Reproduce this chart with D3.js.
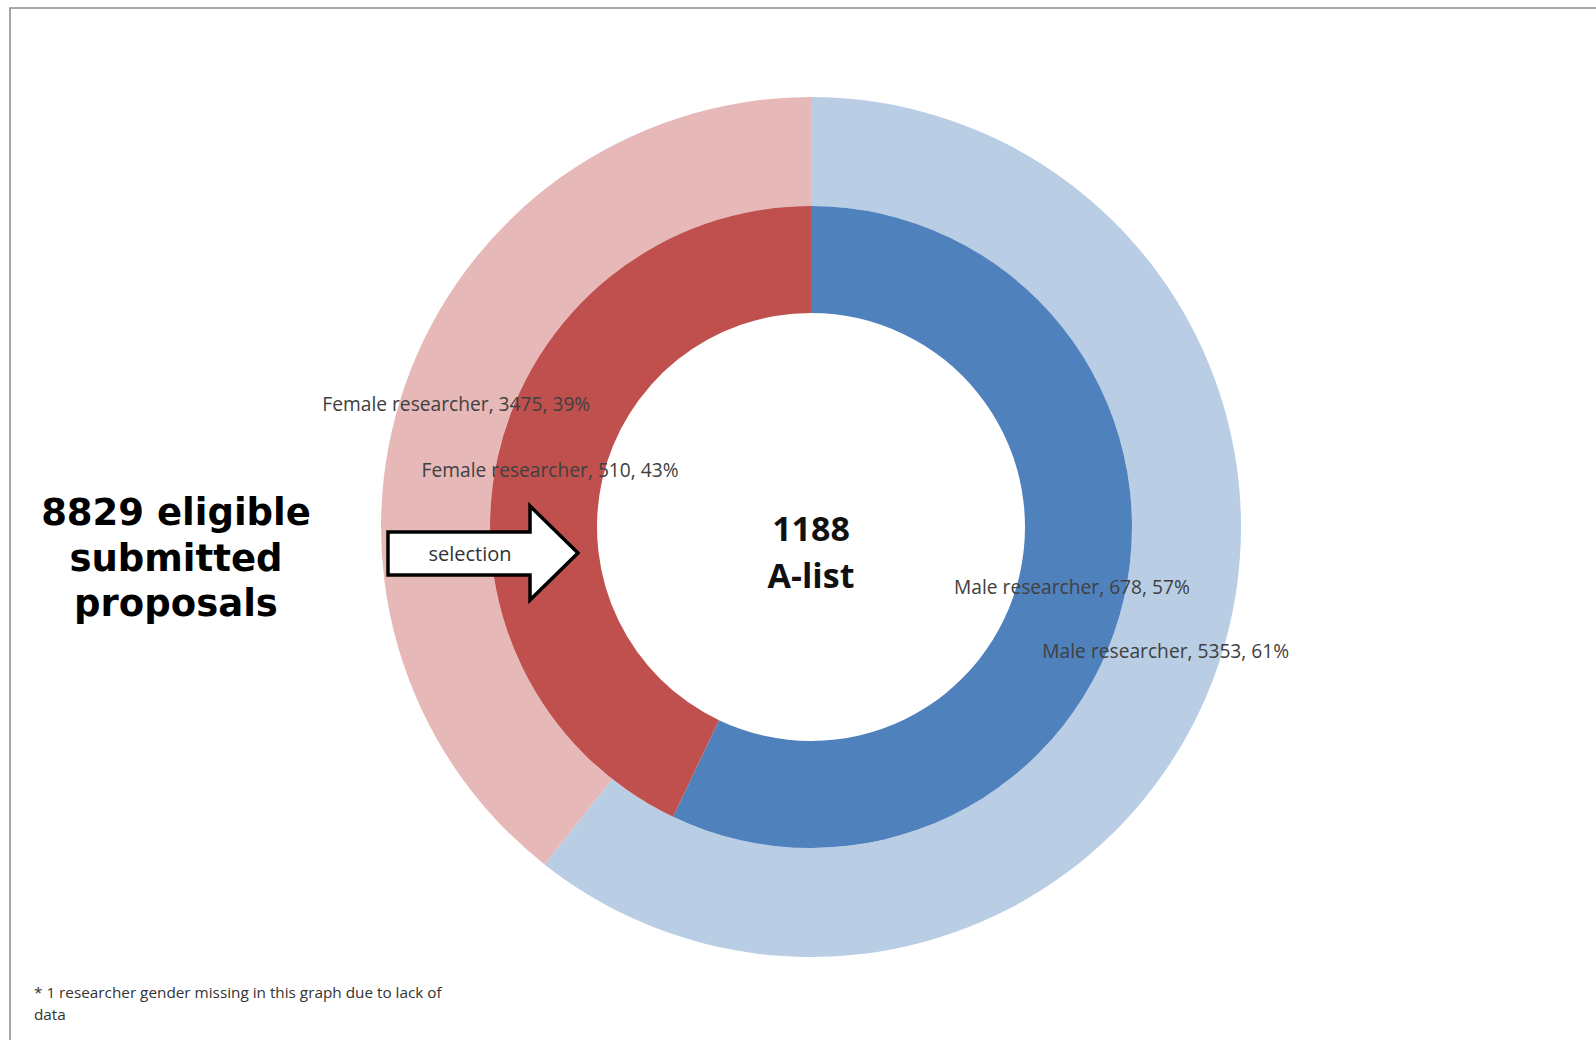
<!DOCTYPE html>
<html>
<head>
<meta charset="utf-8">
<script src="https://cdn.jsdelivr.net/npm/d3@7"></script>
<style>
  body { margin: 0; background: #fff; }
  svg { display: block; }
</style>
</head>
<body>
<svg id="chart"></svg>
<script>
// rings: outer = all eligible submitted proposals, inner = A-list
const genders = ["Male researcher", "Female researcher"];
const submittedValues = [5353, 3475];
const alistValues = [678, 510];
const submittedPct = ["61%", "39%"];
const alistPct = ["57%", "43%"];
const submittedColors = ["#b9cde5", "#e6b9b8"];
const alistColors = ["#4f81bd", "#c0504d"];

const width = 1596, height = 1040;
const cx = 811, cy = 527;

const svg = d3.select("#chart").attr("width", width).attr("height", height);

// frame
svg.append("rect")
  .attr("x", 10).attr("y", 8)
  .attr("width", width + 20).attr("height", height + 20)
  .attr("fill", "#fff")
  .attr("stroke", "#8c8c8c")
  .attr("stroke-width", 1.5);

const g = svg.append("g").attr("transform", `translate(${cx},${cy})`);

const pie = d3.pie().value(d => d).sort(null);

const rings = [
  { values: submittedValues, pct: submittedPct, colors: submittedColors, inner: 321, outer: 430, dy: 0 },
  { values: alistValues, pct: alistPct, colors: alistColors, inner: 214, outer: 321, dy: 1 }
];

rings.forEach(ring => {
  const arc = d3.arc().innerRadius(ring.inner).outerRadius(ring.outer);
  const slices = pie(ring.values);
  g.selectAll(null).data(slices).enter().append("path")
    .attr("d", arc)
    .attr("fill", (d, i) => ring.colors[i]);
  ring.slices = slices;
  ring.arc = arc;
});

// data labels drawn above all rings
rings.forEach(ring => {
  g.selectAll(null).data(ring.slices).enter().append("text")
    .attr("x", d => ring.arc.centroid(d)[0])
    .attr("y", d => ring.arc.centroid(d)[1] + ring.dy)
    .attr("text-anchor", "middle")
    .attr("dominant-baseline", "central")
    .attr("font-family", "'Open Sans', sans-serif")
    .attr("font-size", 19.2)
    .attr("fill", "#404040")
    .text((d, i) => `${genders[i]}, ${ring.values[i]}, ${ring.pct[i]}`);
});

// centre text
g.append("text")
  .attr("text-anchor", "middle")
  .attr("font-family", "'Open Sans', sans-serif")
  .attr("font-weight", "bold")
  .attr("font-size", 34)
  .attr("fill", "#111")
  .selectAll("tspan").data([d3.sum(alistValues), "A-list"]).enter().append("tspan")
  .attr("x", 0)
  .attr("y", (d, i) => 14 + i * 47)
  .text(d => d);

// left caption
svg.append("text")
  .attr("text-anchor", "middle")
  .attr("font-family", "'DejaVu Sans', Verdana, sans-serif")
  .attr("font-weight", "bold")
  .attr("font-size", 37)
  .attr("fill", "#000")
  .selectAll("tspan").data([`${d3.sum(submittedValues) + 1} eligible`, "submitted", "proposals"]).enter().append("tspan")
  .attr("x", 176)
  .attr("y", (d, i) => 525 + i * 45.5)
  .text(d => d);

// selection arrow
const arrow = svg.append("g");
arrow.append("path")
  .attr("d", "M388,532 L530,532 L530,506 L578,553 L530,600 L530,575 L388,575 Z")
  .attr("fill", "#fff")
  .attr("stroke", "#000")
  .attr("stroke-width", 3.5)
  .attr("stroke-linejoin", "miter");
arrow.append("text")
  .attr("x", 470).attr("y", 553)
  .attr("text-anchor", "middle")
  .attr("dominant-baseline", "central")
  .attr("font-family", "'Open Sans', sans-serif")
  .attr("font-size", 20)
  .attr("fill", "#333")
  .text("selection");

// footnote
svg.append("text")
  .attr("font-family", "'Open Sans', sans-serif")
  .attr("font-size", 15.3)
  .attr("fill", "#333")
  .selectAll("tspan").data(["* 1 researcher gender missing in this graph due to lack of", "data"]).enter().append("tspan")
  .attr("x", 34)
  .attr("y", (d, i) => 998 + i * 21.5)
  .text(d => d);
</script>
</body>
</html>
